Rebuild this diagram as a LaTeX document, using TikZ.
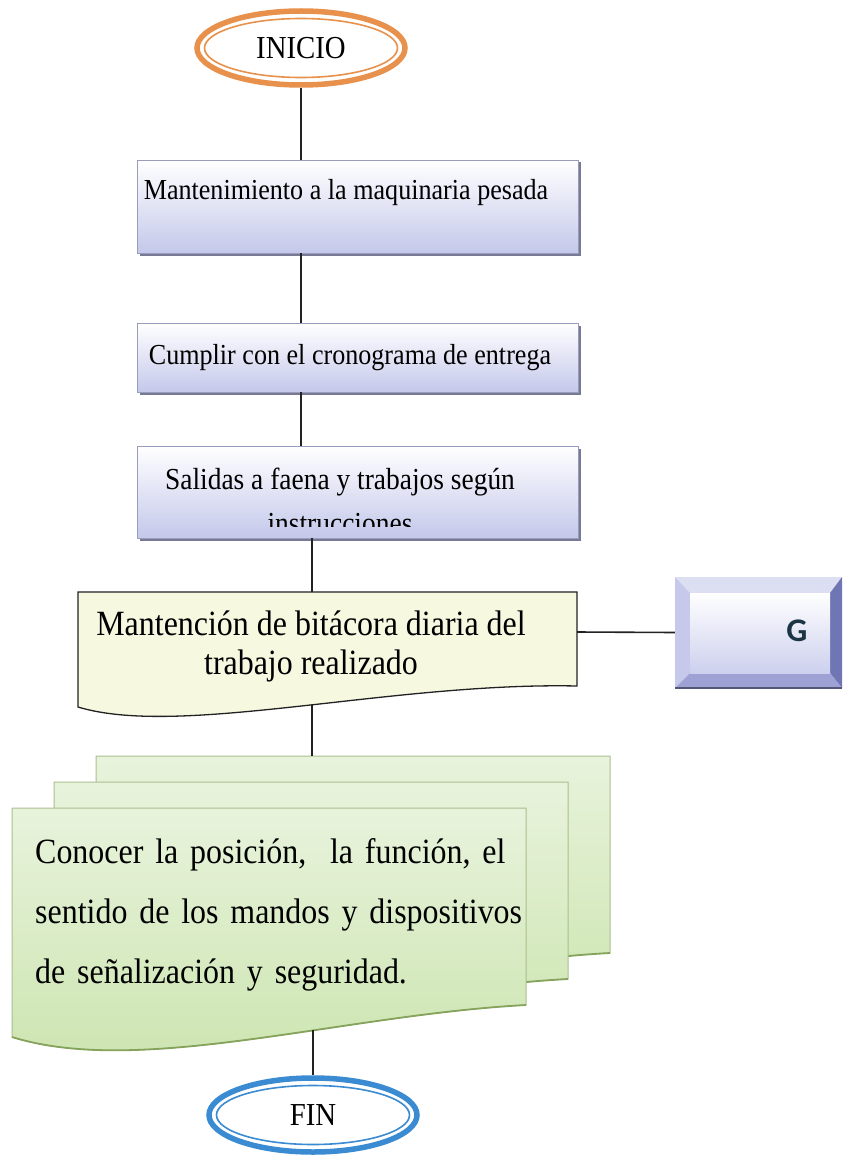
\documentclass[tikz,border=0pt]{standalone}
\usepackage{fontspec}
\setmainfont[FakeStretch=0.9]{Liberation Serif}
\newfontfamily\gfont{Carlito}
\usetikzlibrary{shapes.geometric,shadows,calc}
\definecolor{orangeE}{HTML}{E8914C}
\definecolor{blueE}{HTML}{3B8BD2}
\definecolor{lavB}{HTML}{C4C8EA}
\definecolor{boxborder}{HTML}{9A9CBC}
\definecolor{shadowc}{HTML}{55577A}
\definecolor{docfill}{HTML}{F6F8E0}
\definecolor{gtop}{HTML}{DCDEF2}
\definecolor{gleft}{HTML}{C6C9E9}
\definecolor{gright}{HTML}{7075B4}
\definecolor{gbottom}{HTML}{9DA1D3}
\definecolor{gface}{HTML}{CDD0EE}
\definecolor{gtext}{HTML}{1C3545}
\definecolor{mtop}{HTML}{E8F3DC}
\definecolor{mbot}{HTML}{CBE4AE}
\definecolor{medge}{HTML}{86A35C}
\definecolor{connc}{HTML}{222222}
\begin{document}
\begin{tikzpicture}[x=1pt,y=-1pt,
  conn/.style={draw=connc, line width=1.6pt},
  oval/.style={ellipse, draw=#1, line width=5.5pt, fill=white, minimum width=208pt, minimum height=74pt, inner sep=0pt, font=\fontsize{32}{36}\selectfont},
  stepbox/.style={rectangle, draw=boxborder, line width=0.8pt, top color=white, bottom color=lavB,
     drop shadow={shadow xshift=2.5pt, shadow yshift=-2.5pt, fill=shadowc, opacity=0.8},
     minimum width=441pt, inner sep=0pt},
  boxtext/.style={inner sep=0pt, align=center, font=\fontsize{29}{34}\selectfont},
  pagebox/.style={top color=mtop, bottom color=mbot, draw=medge!70, line width=1pt},
  wave/.style={draw=medge, line width=1.8pt}
]
\useasboundingbox (0,0) rectangle (843,1158);

% INICIO
\node[oval=orangeE] (inicio) at (301,48) {INICIO};
\draw[orangeE, line width=1.6pt] (inicio.center) ellipse [x radius=96.5, y radius=29.5];

% boxes
\node[stepbox, minimum height=93pt] (b1) at (357.5,206.5) {};
\node[boxtext] (t1) at (346,193) {Mantenimiento a la maquinaria pesada};

\node[stepbox, minimum height=69pt] (b2) at (357.5,357.5) {};
\node[boxtext] (t2) at (350,358) {Cumplir con el cronograma de entrega};

\node[stepbox, minimum height=92pt] (b3) at (357.5,492) {};
\begin{scope}
  \clip (137,446) rectangle (578,526);
  \node[boxtext, font=\fontsize{30.5}{44}\selectfont] (t3) at (340,501) {Salidas a faena y trabajos según\\instrucciones};
\end{scope}

% document shape
\coordinate (doctop) at (312,592);
\coordinate (docbot) at (312,705);
\coordinate (docR) at (577,632);
\path[fill=docfill, draw=connc, line width=1.3pt]
  (78,592) -- (577,592) -- (577,686) .. controls (390,682) and (180,738) .. (78,707) -- cycle;
\node[boxtext, font=\fontsize{35.5}{39}\selectfont] (t4) at (311,646) {Mantención de bitácora diaria del\\trabajo realizado};

% G bevel box
\node[rectangle, minimum width=167pt, minimum height=111pt, inner sep=0pt] (g) at (758.5,632.5) {};
\fill[gtop] (675,577) -- (842,577) -- (830,593) -- (690,593) -- cycle;
\fill[gleft] (675,577) -- (690,593) -- (690,673) -- (675,688) -- cycle;
\fill[gright] (842,577) -- (842,688) -- (830,673) -- (830,593) -- cycle;
\fill[gbottom] (675,688) -- (842,688) -- (830,673) -- (690,673) -- cycle;
\shade[top color=white, bottom color=gface] (690,593) rectangle (830,673);
\draw[shadowc, line width=1.5pt] (675,688) -- (842,688);
\node[inner sep=0pt, text=gtext, font=\gfont\bfseries\fontsize{33}{36}\selectfont] (gl) at (797,631) {G};

% multi document
\foreach \dx/\dy in {84/-52, 42/-26, 0/0}{
  \begin{scope}[shift={(\dx,\dy)}]
    \path[pagebox] (12,808) -- (526,808) -- (526,1005) .. controls (340,1015) and (140,1077) .. (12,1037) -- cycle;
    \draw[wave] (526,1005) .. controls (340,1015) and (140,1077) .. (12,1037);
  \end{scope}
}
\coordinate (multitop) at (312,756);
\coordinate (multibot) at (312,1030);
\node[anchor=north west, inner sep=0pt, text width=477pt, align=left, font=\fontsize{35.5}{60}\selectfont] (mtext) at (35,838)
  {\makebox[477pt][s]{Conocer la posición,\ \ la función, el}\\
   \makebox[477pt][s]{sentido de los mandos y dispositivos}\\
   de señalización y seguridad.};

% FIN
\node[oval=blueE] (fin) at (313,1115) {FIN};
\draw[blueE, line width=1.6pt] (fin.center) ellipse [x radius=96.5, y radius=29.5];

% connectors
\draw[conn] (inicio.south) -- (inicio.south |- b1.north);
\draw[conn] (b1.south -| inicio.south) -- (b2.north -| inicio.south);
\draw[conn] (b2.south -| inicio.south) -- (b3.north -| inicio.south);
\draw[conn] (b3.south -| doctop) -- (doctop);
\draw[conn] (docR) -- (g.west);
\draw[conn] (docbot) -- (multitop);
\draw[conn] (fin.north |- multibot) -- (fin.north);
\end{tikzpicture}
\end{document}
